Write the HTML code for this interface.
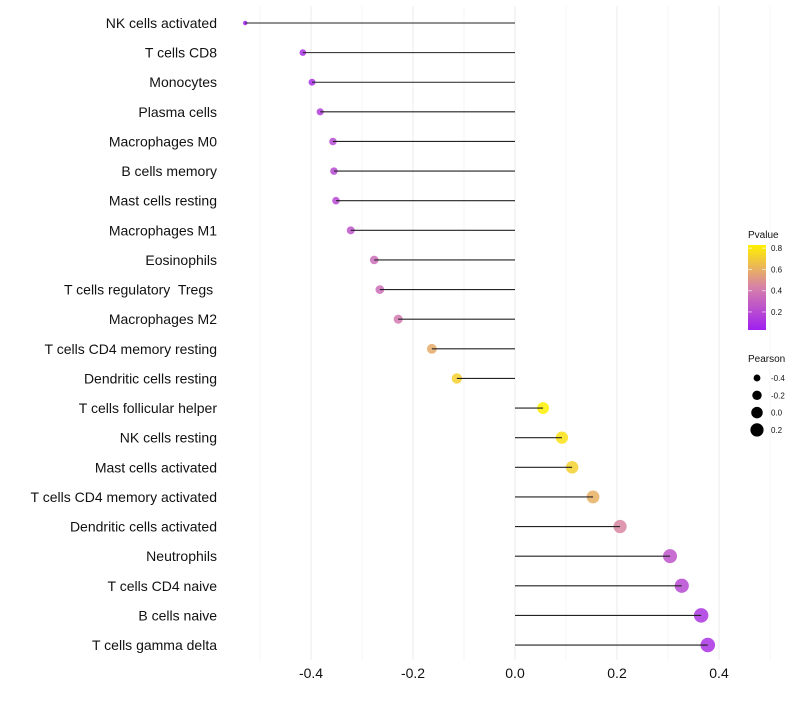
<!DOCTYPE html>
<html><head><meta charset="utf-8"><style>
body{margin:0;background:#fff;font-family:"Liberation Sans",sans-serif}
text{white-space:pre}
</style></head><body>
<svg id="chart" width="800" height="700" xmlns="http://www.w3.org/2000/svg" font-family="Liberation Sans, sans-serif">
<g id="grid"></g>
<g id="marks"></g>
<g id="stems"></g>
<g id="ylabels"></g>
<g id="xlabels"></g>
<g id="legend"></g>
</svg>
<script>
const categories=["NK cells activated","T cells CD8","Monocytes","Plasma cells","Macrophages M0","B cells memory","Mast cells resting","Macrophages M1","Eosinophils","T cells regulatory  Tregs ","Macrophages M2","T cells CD4 memory resting","Dendritic cells resting","T cells follicular helper","NK cells resting","Mast cells activated","T cells CD4 memory activated","Dendritic cells activated","Neutrophils","T cells CD4 naive","B cells naive","T cells gamma delta"];
const pearson=[-0.529,-0.416,-0.398,-0.382,-0.357,-0.355,-0.351,-0.322,-0.276,-0.265,-0.229,-0.163,-0.114,0.055,0.092,0.112,0.153,0.206,0.304,0.327,0.365,0.378];
const pvalue=[0.02,0.1,0.1,0.15,0.2,0.2,0.2,0.25,0.35,0.35,0.4,0.58,0.72,0.85,0.78,0.72,0.6,0.45,0.25,0.2,0.12,0.1];
const xTicks=[-0.4,-0.2,0.0,0.2,0.4];
const xTickLabels=["-0.4","-0.2","0.0","0.2","0.4"];
const xMinor=[-0.5,-0.3,-0.1,0.1,0.3,0.5];
const pTicks=[0.2,0.4,0.6,0.8];
const sizeTicks=[-0.4,-0.2,0.0,0.2];
const sizeTickLabels=["-0.4","-0.2","0.0","0.2"];

const NS="http://www.w3.org/2000/svg";
const X=v=>515+v*510;
const Y=i=>23+i*29.62;
const R=v=>Math.sqrt(Math.max(1,5+53*(v+0.529)));
function col(p){
  const stops=[[0.03,[160,32,240]],[0.43,[214,128,170]],[0.83,[255,240,0]]];
  if(p<=stops[0][0])return `rgb(${stops[0][1]})`;
  for(let k=0;k<stops.length-1;k++){const a=stops[k],b=stops[k+1];
    if(p<=b[0]){const t=(p-a[0])/(b[0]-a[0]);return `rgb(${a[1].map((c,j)=>Math.round(c+(b[1][j]-c)*t))})`;}}
  return `rgb(${stops[2][1]})`;
}
function mk(tag,attrs,parent){const e=document.createElementNS(NS,tag);for(const k in attrs)e.setAttribute(k,attrs[k]);parent.appendChild(e);return e;}
const grid=document.getElementById('grid'),marks=document.getElementById('marks'),stems=document.getElementById('stems'),yl=document.getElementById('ylabels'),xl=document.getElementById('xlabels'),lg=document.getElementById('legend');
xMinor.forEach(v=>{const l=mk('line',{x1:X(v),x2:X(v),y1:6,y2:660,stroke:'#f4f4f4','stroke-width':1},grid);

});
xTicks.forEach((v,i)=>{const l=mk('line',{x1:X(v),x2:X(v),y1:6,y2:660,stroke:'#ebebeb','stroke-width':1},grid);


const t=mk('text',{x:X(v),y:678,'text-anchor':'middle','font-size':14,fill:'#111'},xl);t.textContent=xTickLabels[i];

});
categories.forEach((c,i)=>{const y=Y(i);
const d=mk('circle',{cx:X(pearson[i]),cy:y,r:R(pearson[i]),fill:col(pvalue[i]),'fill-opacity':0.85},marks);


const l=mk('line',{x1:X(0),x2:X(pearson[i]),y1:y,y2:y,stroke:'#222','stroke-width':1.1},stems);


const t=mk('text',{x:217,y:y+5,'text-anchor':'end','font-size':14,fill:'#111','xml:space':'preserve'},yl);t.textContent=c;

});
// legend
let t=mk('text',{x:748,y:238,'font-size':10,fill:'#111'},lg);t.textContent='Pvalue';


const defs=mk('defs',{},lg);const g=mk('linearGradient',{id:'pg',x1:0,y1:1,x2:0,y2:0},defs);
[0,0.25,0.5,0.75,1].forEach(f=>mk('stop',{offset:f,'stop-color':col(0.03+f*0.8)},g));
const bar=mk('rect',{x:748,y:245,width:18,height:85,fill:'url(#pg)'},lg);


const PY=p=>330-(p-0.03)/0.8*85;
pTicks.forEach(p=>{const tk=mk('text',{x:771,y:PY(p)+3,'font-size':8,fill:'#111'},lg);tk.textContent=p.toFixed(1);


mk('line',{x1:748,x2:752,y1:PY(p),y2:PY(p),stroke:'#fff','stroke-opacity':0.6},lg);
mk('line',{x1:762,x2:766,y1:PY(p),y2:PY(p),stroke:'#fff','stroke-opacity':0.6},lg);});
t=mk('text',{x:748,y:362,'font-size':10,fill:'#111'},lg);t.textContent='Pearson';


sizeTicks.forEach((v,i)=>{const y=378+i*17.3;
const c=mk('circle',{cx:757,cy:y,r:R(v),fill:'#000'},lg);


const tk=mk('text',{x:771,y:y+3,'font-size':8,fill:'#111'},lg);tk.textContent=sizeTickLabels[i];

});
</script>
</body></html>
